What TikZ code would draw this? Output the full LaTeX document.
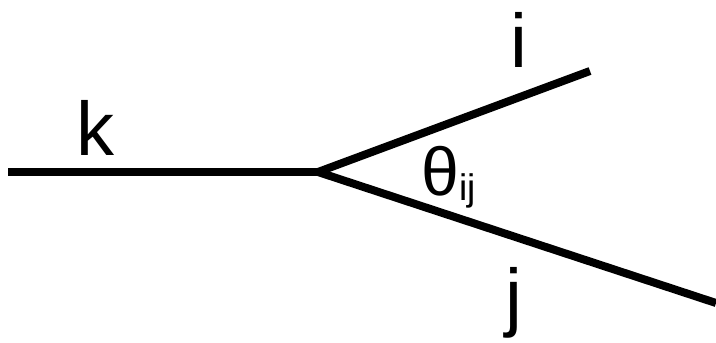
\documentclass[tikz,border=0pt]{standalone}
\usepackage{fontspec}
\setmainfont{Liberation Sans}
\tikzset{
  edge/.style={line width=8pt},
  lbl/.style={inner sep=0pt, anchor=base, font=\fontsize{76}{76}\selectfont},
}
\begin{document}
\begin{tikzpicture}[x=1pt,y=-1pt]
    \useasboundingbox (0,0) rectangle (716,343);
    \coordinate (K) at (8,172); \coordinate (O) at (318,172);
    \coordinate (I) at (590,71); \coordinate (J) at (716,303);
    \draw[edge] (K)--(O); \draw[edge] (O)--(I); \draw[edge] (O)--(J);
    \node[lbl] (k) at (95,155) {k};
    \node[lbl] (i) at (519,67) {i};
    \node[lbl] (j) at (514,322) {j};
    \node[lbl, anchor=base west, font=\fontsize{68}{68}\selectfont] (theta) at (421,195)
      {θ\raisebox{-5pt}{\fontsize{37}{37}\selectfont ij}};
  \end{tikzpicture}
\end{document}
